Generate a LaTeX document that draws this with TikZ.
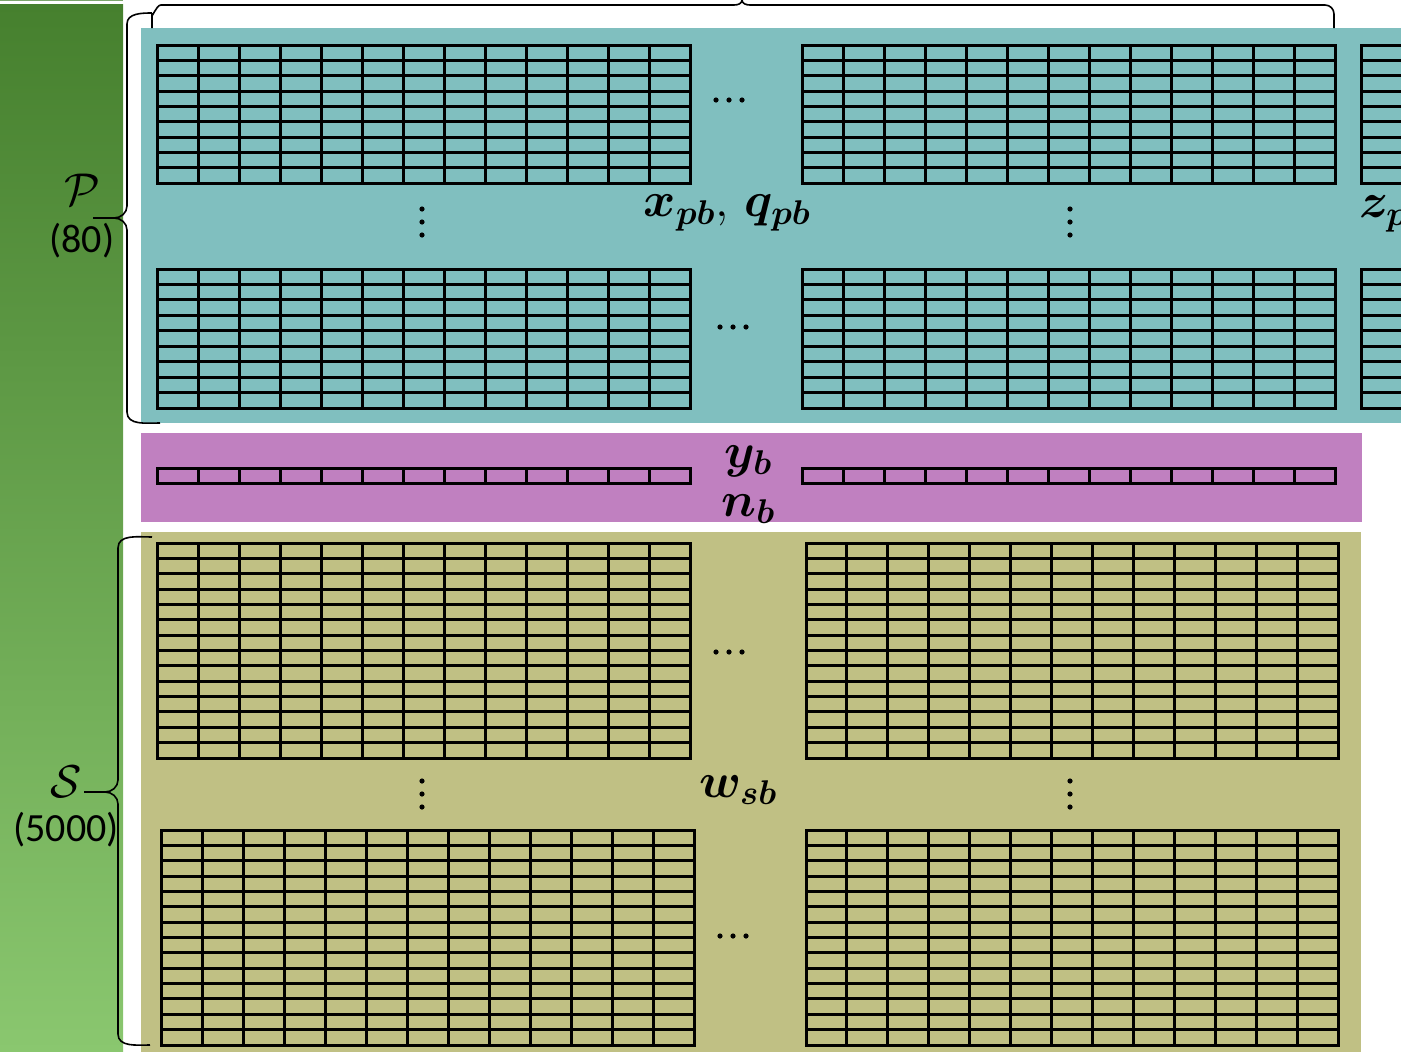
\RequirePackage{fix-cm}
\documentclass[tikz,border=0pt]{standalone}
\usepackage{amsmath,bm}
\usepackage{fontspec}
\setmainfont{Carlito}
\definecolor{leafdark}{RGB}{70,128,46}
\definecolor{leafmid}{RGB}{96,168,74}
\definecolor{leaflight}{RGB}{138,199,111}
\definecolor{tealbg}{RGB}{128,191,191}
\definecolor{purpbg}{RGB}{192,128,192}
\definecolor{olivebg}{RGB}{192,192,132}
\newcommand{\cellgrid}[6]{%
  \pgfmathsetmacro{\grdDX}{(#3-#1)/#5}%
  \pgfmathsetmacro{\grdDY}{(#4-#2)/#6}%
  \foreach \k in {1,...,#5}{\draw[gridline] ({#1+\k*\grdDX},#2) -- ({#1+\k*\grdDX},#4);}%
  \foreach \k in {1,...,#6}{\draw[gridline] (#1,{#2+\k*\grdDY}) -- (#3,{#2+\k*\grdDY});}%
  \draw[gridline] (#1,#2) rectangle (#3,#4);%
}
\newcommand{\myHdots}[2]{\foreach \d in {-13,0,13}{\fill[black] ({#1+\d},#2) circle[radius=2.6];}}
\newcommand{\myVdots}[2]{\foreach \d in {-13,0,13}{\fill[black] (#1,{#2+\d}) circle[radius=2.6];}}
\begin{document}
\begin{tikzpicture}[x=1pt,y=-1pt,
  gridline/.style={line width=3pt,black,line cap=rect},
  bracestyle/.style={line width=1.6pt,black},
  bigtxt/.style={font=\fontsize{40}{44}\selectfont,inner sep=0pt},
  mathlab/.style={font=\fontsize{49}{52}\selectfont,inner sep=0pt}]
\useasboundingbox (0,0) rectangle (1401,1052);
\clip (0,0) rectangle (1401,1052);
% left green column
\shade[top color=leafdark, middle color=leafmid, bottom color=leaflight] (0,4) rectangle (123,1052);
\draw[leafdark!70!white,line width=1pt] (0,0.5) -- (123,0.5);
% bands
\fill[tealbg] (141,28) rectangle (1401,423);
\fill[purpbg] (141,433) rectangle (1362,522);
\fill[olivebg] (141,532) rectangle (1361,1052);
% teal grids
\cellgrid{157}{45}{690}{183}{13}{9}
\cellgrid{802}{45}{1335}{183}{13}{9}
\cellgrid{1361}{45}{1894}{183}{13}{9}
\cellgrid{157}{269}{690}{408}{13}{9}
\cellgrid{802}{269}{1335}{408}{13}{9}
\cellgrid{1361}{269}{1894}{408}{13}{9}
% purple rows
\cellgrid{157}{468}{690}{483}{13}{1}
\cellgrid{802}{468}{1335}{483}{13}{1}
% olive grids
\cellgrid{157}{543}{690}{758}{13}{14}
\cellgrid{806}{543}{1338}{758}{13}{14}
\cellgrid{161}{830}{694}{1045}{13}{14}
\cellgrid{806}{830}{1338}{1045}{13}{14}
% braces
\draw[bracestyle] (152,28) -- (152,14) to[out=-90,in=180] (161,5) -- (734,5)
  to[out=0,in=-90] (742,0) to[out=-90,in=180] (750,5) -- (1325,5)
  to[out=0,in=90] (1334,14) -- (1334,28);
\draw[bracestyle] (152,13) to[out=180,in=90] (127,24) -- (127,206)
  to[out=-90,in=0] (114,218) -- (93,218);
\draw[bracestyle] (114,218) to[out=0,in=90] (127,230) -- (127,412)
  to[out=-90,in=180] (160,423);
\draw[bracestyle] (152,537) to[out=180,in=90] (118,548) -- (118,780)
  to[out=-90,in=0] (105,792) -- (84,792);
\draw[bracestyle] (105,792) to[out=0,in=90] (118,804) -- (118,1034)
  to[out=-90,in=180] (150,1045);
% labels left
\node[bigtxt,font=\fontsize{46}{50}\selectfont] (Plab) at (82,190) {$\mathcal{P}$};
\node[bigtxt] (Pnum) at (82,241) {(80)};
\node[bigtxt,font=\fontsize{46}{50}\selectfont] (Slab) at (66,782) {$\mathcal{S}$};
\node[bigtxt] (Snum) at (66,830) {(5000)};
% math labels
\node[mathlab] (xq) at (727,213) {$\bm{x_{pb}},\,\bm{q_{pb}}$};
\node[mathlab,anchor=west] (zp) at (1359,214) {$\bm{z_{p}}$};
\node[mathlab] (yb) at (748,461) {$\bm{y_{b}}$};
\node[mathlab] (nb) at (748,509) {$\bm{n_{b}}$};
\node[mathlab] (wsb) at (738,790) {$\bm{w_{sb}}$};
% ellipses
\myHdots{729}{100}
\myHdots{733}{327}
\myHdots{729}{652}
\myHdots{733}{936}
\myVdots{422}{222}
\myVdots{1070}{222}
\myVdots{422}{794}
\myVdots{1070}{794}
\end{tikzpicture}
\end{document}
